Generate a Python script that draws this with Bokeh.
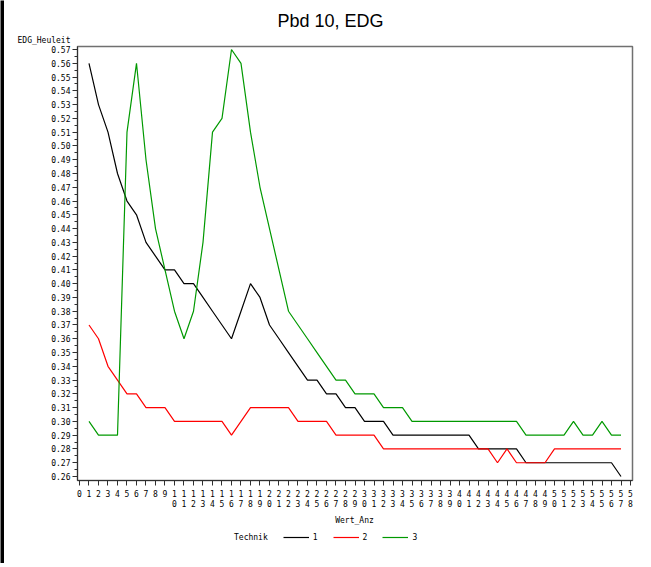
from bokeh.plotting import figure
from bokeh.models import Range1d, FixedTicker, Legend, LegendItem, Label
from bokeh.layouts import column, row
from bokeh.embed import file_html
from bokeh.resources import INLINE

# ---- data ----
wert_anz = list(range(1, 58))
technik_1 = [0.56, 0.53, 0.51, 0.48, 0.46, 0.45, 0.43, 0.42, 0.41, 0.41,
             0.40, 0.40, 0.39, 0.38, 0.37, 0.36, 0.38, 0.40, 0.39, 0.37,
             0.36, 0.35, 0.34, 0.33, 0.33, 0.32, 0.32, 0.31, 0.31, 0.30,
             0.30, 0.30, 0.29, 0.29, 0.29, 0.29, 0.29, 0.29, 0.29, 0.29,
             0.29, 0.28, 0.28, 0.28, 0.28, 0.28, 0.27, 0.27, 0.27, 0.27,
             0.27, 0.27, 0.27, 0.27, 0.27, 0.27, 0.26]
technik_2 = [0.37, 0.36, 0.34, 0.33, 0.32, 0.32, 0.31, 0.31, 0.31, 0.30,
             0.30, 0.30, 0.30, 0.30, 0.30, 0.29, 0.30, 0.31, 0.31, 0.31,
             0.31, 0.31, 0.30, 0.30, 0.30, 0.30, 0.29, 0.29, 0.29, 0.29,
             0.29, 0.28, 0.28, 0.28, 0.28, 0.28, 0.28, 0.28, 0.28, 0.28,
             0.28, 0.28, 0.28, 0.27, 0.28, 0.27, 0.27, 0.27, 0.27, 0.28,
             0.28, 0.28, 0.28, 0.28, 0.28, 0.28, 0.28]
technik_3 = [0.30, 0.29, 0.29, 0.29, 0.51, 0.56, 0.49, 0.44, 0.41, 0.38,
             0.36, 0.38, 0.43, 0.51, 0.52, 0.57, 0.56, 0.51, 0.47, 0.44,
             0.41, 0.38, 0.37, 0.36, 0.35, 0.34, 0.33, 0.33, 0.32, 0.32,
             0.32, 0.31, 0.31, 0.31, 0.30, 0.30, 0.30, 0.30, 0.30, 0.30,
             0.30, 0.30, 0.30, 0.30, 0.30, 0.30, 0.29, 0.29, 0.29, 0.29,
             0.29, 0.30, 0.29, 0.29, 0.30, 0.29, 0.29]
series_names = ["1", "2", "3"]
series_colors = ["#000000", "#ff0000", "#009900"]
x_ticks = list(range(0, 59))
y_ticks = [round(0.26 + 0.01 * k, 2) for k in range(32)]
y_minor = [round(0.265 + 0.01 * k, 3) for k in range(31)]

title_text = "Pbd 10, EDG"
y_label = "EDG_Heuleit"
x_label = "Wert_Anz"
legend_title = "Technik"

# ---- layout (page pixels, page origin 0,0) ----
EDGE = 4                                   # black page edge (left strip / top band)
CW = 644                                   # width of the column right of the left edge
BAND_END, TOP_END, MAIN_END, BOT_END = 4, 45, 512, 563
FL, FR, FT, FB = 77, 632, 46, 481          # frame edges on the page
MONO = "DejaVu Sans Mono"


def strip(w, h, fill="white"):
    f = figure(width=w, height=h, output_backend="svg", toolbar_location=None,
               x_range=Range1d(0, w), y_range=Range1d(0, h), min_border=0,
               x_axis_location=None, y_axis_location=None)
    f.grid.visible = False
    f.outline_line_color = None
    f.background_fill_color = fill
    f.border_fill_color = fill
    return f


left_edge = strip(EDGE, BOT_END, "black")
top_band = strip(CW, BAND_END, "black")

# ---- top strip: title and y-axis name ----
h_top = TOP_END - BAND_END
top = figure(width=CW, height=h_top, output_backend="svg", toolbar_location=None,
             x_range=Range1d(0, FR - FL), y_range=Range1d(0, h_top), min_border=0,
             x_axis_location=None)
top.grid.visible = False
top.outline_line_color = None
top.background_fill_color = "white"
top.border_fill_color = "white"
ylab_pos = TOP_END - 41
ta = top.yaxis[0]
ta.ticker = FixedTicker(ticks=[ylab_pos])
ta.major_label_overrides = {ylab_pos: y_label}
ta.major_label_text_font = MONO
ta.major_label_text_font_size = "8px"
ta.major_label_text_color = "black"
ta.major_label_standoff = 1
ta.axis_line_color = None
ta.major_tick_line_color = None
ta.minor_tick_line_color = None
top.add_layout(Label(x=330 - FL, y=TOP_END - 20.5, x_units="screen", y_units="screen",
                     text=title_text, text_align="center", text_baseline="middle",
                     text_font="Liberation Sans", text_font_size="18px", text_color="black"))

# ---- main chart ----
p = figure(width=CW, height=MAIN_END - TOP_END, output_backend="svg", toolbar_location=None,
           x_range=Range1d(-0.21, 58.21), y_range=Range1d(0.2571, 0.5722),
           min_border_left=FL - EDGE, min_border_right=(EDGE + CW) - FR,
           min_border_top=FT - TOP_END, min_border_bottom=MAIN_END - FB)
p.xgrid.visible = False
p.ygrid.visible = False
p.outline_line_color = "#707070"
p.outline_line_width = 1.5
p.background_fill_color = "white"
p.border_fill_color = "white"

for ys, c in zip([technik_1, technik_2, technik_3], series_colors):
    p.line(wert_anz, ys, line_color=c, line_width=1.2)

xa = p.xaxis[0]
xa.ticker = FixedTicker(ticks=x_ticks)
xa.major_label_overrides = {i: (str(i) if i < 10 else f"{i // 10}\n{i % 10}") for i in x_ticks}
xa.major_tick_out = 5
xa.major_tick_in = 0
xa.minor_tick_out = 0
xa.minor_tick_in = 0
xa.major_label_standoff = 4
xa.major_label_text_font = MONO
xa.major_label_text_font_size = "8px"
xa.major_label_text_color = "black"
xa.axis_line_color = "#303030"
xa.major_tick_line_color = "#303030"

ya = p.yaxis[0]
ya.ticker = FixedTicker(ticks=y_ticks, minor_ticks=y_minor)
ya.major_label_overrides = {v: f"{v:.2f}" for v in y_ticks}
ya.major_tick_out = 5
ya.major_tick_in = 0
ya.minor_tick_out = 3
ya.minor_tick_in = 0
ya.major_label_standoff = 2
ya.major_label_text_font = MONO
ya.major_label_text_font_size = "8px"
ya.major_label_text_color = "black"
ya.axis_line_color = "#303030"
ya.major_tick_line_color = "#303030"
ya.minor_tick_line_color = "#303030"

# ---- bottom strip: x-axis name and legend ----
h_bot = BOT_END - MAIN_END
bot = strip(CW, h_bot)
bot.add_layout(Label(x=354 - FL, y=BOT_END - 520, x_units="screen", y_units="screen",
                     text=x_label, text_align="center", text_baseline="middle",
                     text_font=MONO, text_font_size="8px", text_color="black"))
# legend key renderers (kept outside the visible range; only their key glyphs show)
blank = bot.line([-20, -10], [-20, -20], line_alpha=0)
keys = [bot.line([-20, -10], [-20, -20], line_color=c, line_width=1.2) for c in series_colors]
items = [LegendItem(label=legend_title, renderers=[blank])]
items += [LegendItem(label=n, renderers=[r]) for n, r in zip(series_names, keys)]
legend = Legend(items=items, orientation="horizontal",
                location=(204 - FL, BOT_END - 537 - 5),
                glyph_width=26, glyph_height=10, label_height=10, label_width=0,
                label_standoff=4, spacing=15, padding=0, margin=0,
                label_text_font=MONO, label_text_font_size="8px", label_text_color="black",
                border_line_alpha=0, background_fill_alpha=0)
bot.add_layout(legend, "center")

layout = row(left_edge, column(top_band, top, p, bot, spacing=0), spacing=0)
open("out.html", "w").write(file_html(layout, INLINE))
